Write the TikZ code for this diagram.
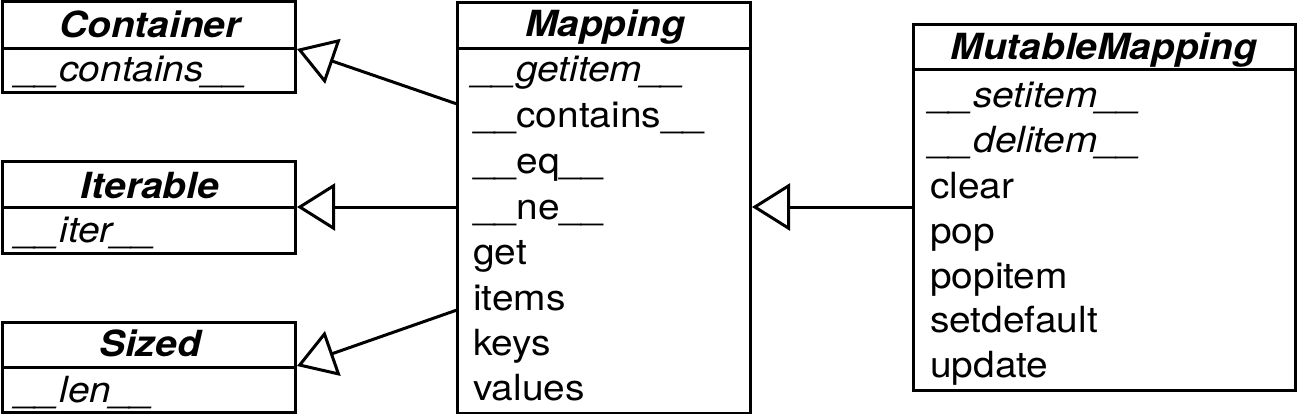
\documentclass[tikz,border=0pt]{standalone}
\usepackage{fontspec}
\setmainfont{TeX Gyre Heros}[FakeStretch=1.08]
\usetikzlibrary{arrows.meta}
\begin{document}
\begin{tikzpicture}[x=1pt,y=-1pt,
  box/.style={draw, line width=3pt, inner sep=0pt, outer sep=0pt},
  divline/.style={line width=3pt},
  ttl/.style={font=\fontsize{36}{40}\selectfont\bfseries\itshape, anchor=base, inner sep=0pt},
  itm/.style={font=\fontsize{36}{40}\selectfont, anchor=base west, inner sep=0pt},
  abs/.style={itm, font=\fontsize{36}{40}\selectfont\itshape},
  inh/.style={line width=3pt, -{Triangle[open, length=38pt, width=47pt, fill=white]}}
]
\useasboundingbox (0,0) rectangle (1297,414);
% left boxes
\node[box, minimum width=293pt, minimum height=91pt] (cont) at (148.5,47.5) {};
\draw[divline] (2,49) -- (295,49);
\node[ttl] (contT) at (150,38) {Container};
\node[abs] (contA) at (16,82) {\_\_contains\_\_};

\node[box, minimum width=293pt, minimum height=91pt] (iter) at (148.5,207.5) {};
\draw[divline] (2,207) -- (295,207);
\node[ttl] (iterT) at (150,198) {Iterable};
\node[abs] (iterA) at (16,242) {\_\_iter\_\_};

\node[box, minimum width=293pt, minimum height=90pt] (sized) at (148.5,367) {};
\draw[divline] (2,367) -- (295,367);
\node[ttl] (sizedT) at (150,356) {Sized};
\node[abs] (sizedA) at (16,402) {\_\_len\_\_};

% Mapping
\node[box, minimum width=293pt, minimum height=410pt] (map) at (603.5,208) {};
\draw[divline] (457,49) -- (750,49);
\node[ttl] (mapT) at (605,37) {Mapping};
\node[abs] (m1) at (473,82) {\_\_getitem\_\_};
\node[itm] (m2) at (473,128) {\_\_contains\_\_};
\node[itm] (m3) at (473,174) {\_\_eq\_\_};
\node[itm] (m4) at (473,219) {\_\_ne\_\_};
\node[itm] (m5) at (473,264) {get};
\node[itm] (m6) at (473,310) {items};
\node[itm] (m7) at (473,355) {keys};
\node[itm] (m8) at (473,400) {values};

% MutableMapping
\node[box, minimum width=382pt, minimum height=365pt] (mm) at (1104,207.5) {};
\draw[divline] (913,70) -- (1295,70);
\node[ttl] (mmT) at (1104,60) {MutableMapping};
\node[abs] (n1) at (930,108) {\_\_setitem\_\_};
\node[abs] (n2) at (930,153) {\_\_delitem\_\_};
\node[itm] (n3) at (930,198) {clear};
\node[itm] (n4) at (930,243) {pop};
\node[itm] (n5) at (930,288) {popitem};
\node[itm] (n6) at (930,332) {setdefault};
\node[itm] (n7) at (930,377) {update};

% connector end points
\coordinate (mapC) at (457,104);
\coordinate (mapI) at (457,207);
\coordinate (mapS) at (457,310);
\coordinate (contE) at (297,49);
\coordinate (iterE) at (297,207);
\coordinate (sizedE) at (297,366);
\coordinate (mmW) at (913,207);
\coordinate (mapE) at (752,207);

\draw[inh] (mapC) -- (contE);
\draw[inh] (mapI) -- (iterE);
\draw[inh] (mapS) -- (sizedE);
\draw[inh] (mmW) -- (mapE);
\end{tikzpicture}
\end{document}
